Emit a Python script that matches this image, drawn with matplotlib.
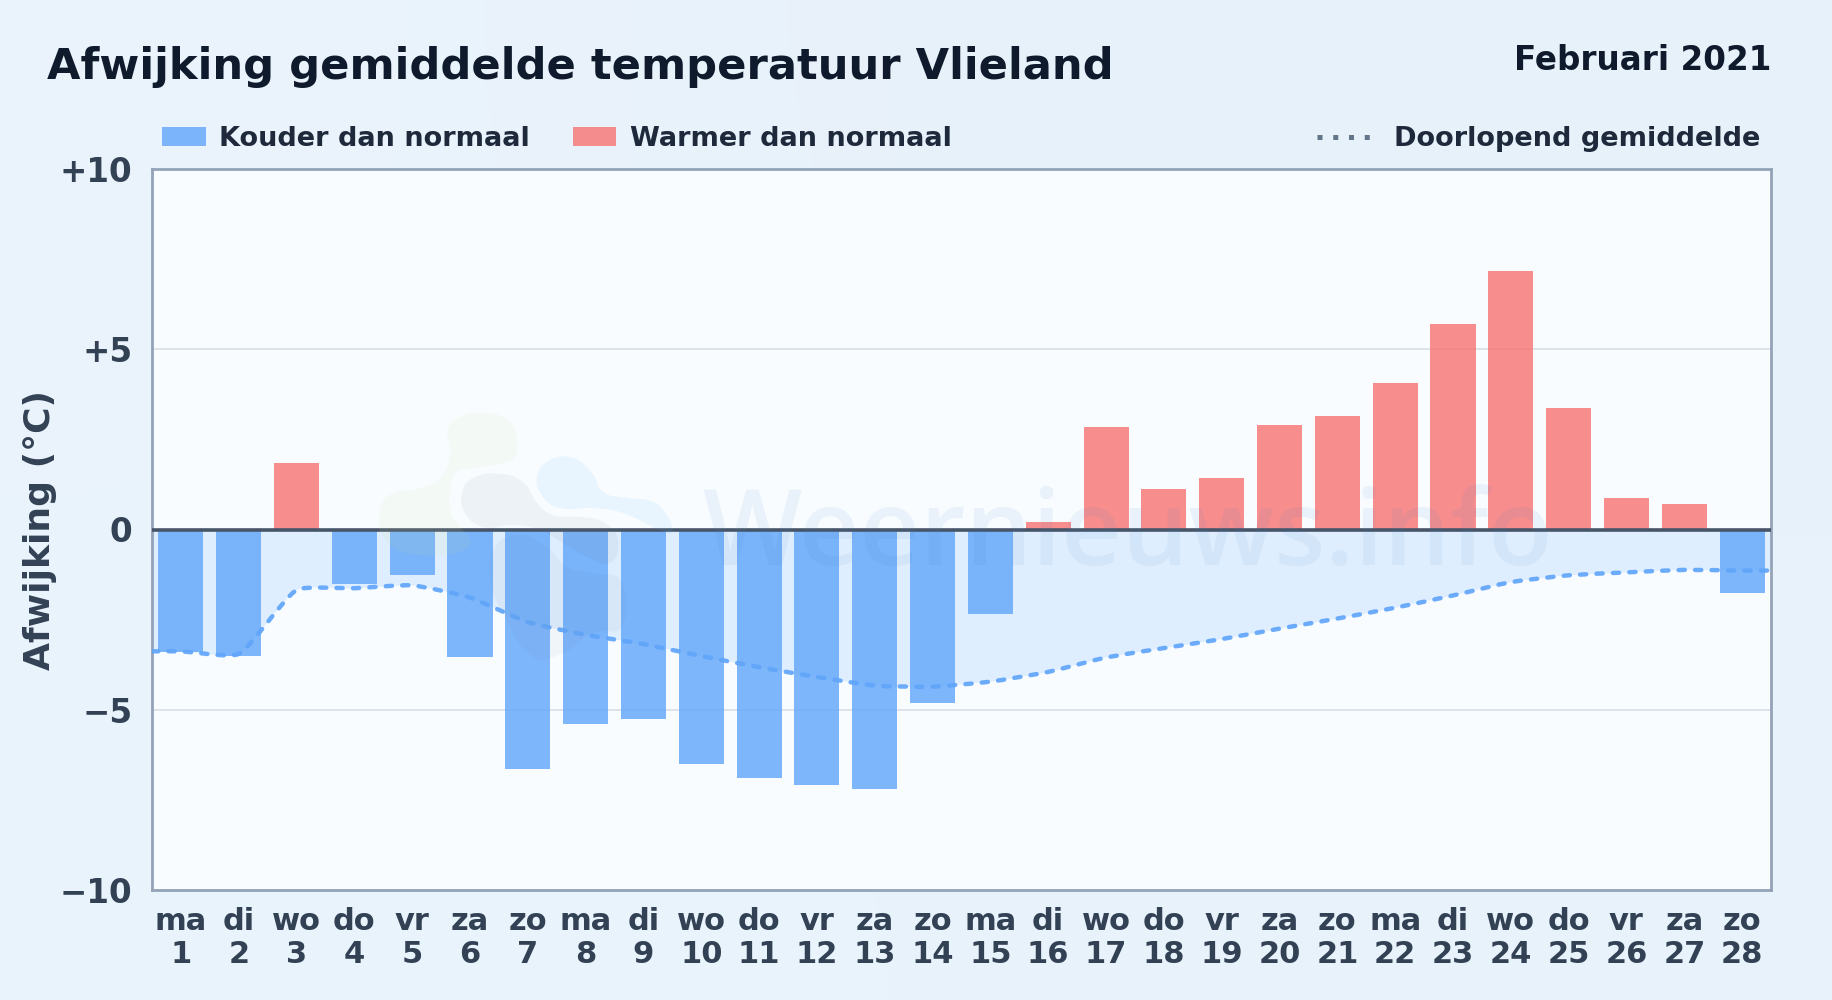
import numpy as np
import matplotlib
matplotlib.use("Agg")
import matplotlib.pyplot as plt
from matplotlib.patches import PathPatch, Rectangle
from matplotlib.path import Path
from matplotlib.lines import Line2D

days = list(range(1, 29))
weekdays = ['ma', 'di', 'wo', 'do', 'vr', 'za', 'zo'] * 4
deviation = [-3.4, -3.5, 1.85, -1.5, -1.25, -3.55, -6.65, -5.4, -5.25, -6.5, -6.9, -7.1, -7.2, -4.8,
             -2.35, 0.2, 2.83, 1.13, 1.43, 2.9, 3.15, 4.05, 5.7, 7.17, 3.38, 0.87, 0.72, -1.75]
running_mean = [-3.38, -3.45, -1.68, -1.63, -1.55, -1.89, -2.57, -2.92, -3.18, -3.51, -3.82, -4.09, -4.33, -4.36,
                -4.22, -3.95, -3.55, -3.29, -3.04, -2.75, -2.47, -2.17, -1.83, -1.46, -1.27, -1.19, -1.12, -1.14]
y_ticks = [-10, -5, 0, 5, 10]
y_tick_labels = ['\u221210', '\u22125', '0', '+5', '+10']

BLUE = '#60a5fa'
RED = '#f87171'
W, H = 1832, 1000


def smooth_path(x, y, tension=0.3, sx=1.0, sy=1.0):
    # curve through the points, control points weighted by the neighbour distances
    pts = np.column_stack([x, y])
    scale = np.array([sx, sy])
    verts = [pts[0]]
    codes = [Path.MOVETO]
    for i in range(len(pts) - 1):
        p0, p1 = pts[max(i - 1, 0)], pts[i]
        p2, p3 = pts[i + 1], pts[min(i + 2, len(pts) - 1)]
        d01 = np.linalg.norm((p1 - p0) * scale)
        d12 = np.linalg.norm((p2 - p1) * scale)
        d23 = np.linalg.norm((p3 - p2) * scale)
        fa = tension * d12 / max(d01 + d12, 1e-9)
        fb = tension * d12 / max(d12 + d23, 1e-9)
        verts += [p1 + fa * (p2 - p0), p2 - fb * (p3 - p1), p2]
        codes += [Path.CURVE4] * 3
    return np.array(verts), codes


def blob(points, color, alpha):
    pts = np.array(points + points[:3], dtype=float)
    v, c = smooth_path(pts[:, 0], pts[:, 1], tension=0.45)
    # the extra points only close the outline smoothly
    n = len(points)
    v = v[3:3 * n + 4]
    c = [Path.MOVETO] + [Path.CURVE4] * (len(v) - 1)
    over.add_patch(PathPatch(Path(v, c), fc=color, ec='none', alpha=alpha))


plt.rcParams['font.family'] = 'DejaVu Sans'
plt.rcParams['font.weight'] = 'bold'

fig = plt.figure(figsize=(W / 100, H / 100), dpi=100)

# page background, faint gradient
bg = fig.add_axes([0, 0, 1, 1], zorder=-1)
bg.imshow([[[0.922, 0.957, 0.988], [0.906, 0.945, 0.980], [0.910, 0.949, 0.984]],
           [[0.914, 0.957, 0.992], [0.914, 0.953, 0.988], [0.906, 0.949, 0.984]]],
          aspect='auto', interpolation='bicubic')
bg.axis('off')

ax = fig.add_axes([152 / W, 1 - 890 / H, (1771 - 152) / W, (890 - 169) / H], zorder=1)
ax.set_facecolor('#f8fcff')

for i, v in enumerate(deviation):
    ax.bar(days[i], v, width=0.78, color=BLUE if v < 0 else RED, alpha=0.8, zorder=3)

line_x = [0.5] + days + [28.5]
line_y = [running_mean[0]] + running_mean + [running_mean[-1]]
verts, codes = smooth_path(line_x, line_y, tension=0.18, sx=57.8, sy=36)
fill_verts = np.vstack([verts, [[28.5, 0], [0.5, 0], verts[0]]])
fill_codes = codes + [Path.LINETO, Path.LINETO, Path.CLOSEPOLY]
ax.add_patch(PathPatch(Path(fill_verts, fill_codes), fc=BLUE, ec='none', alpha=0.16, zorder=2))
ax.add_patch(PathPatch(Path(verts, codes), fc='none', ec=BLUE, lw=3.2, alpha=0.92, linestyle=(0, (1.4, 2.3)),
                       capstyle='round', zorder=4))

ax.axhline(0, color='#475569', lw=2.6, zorder=5)
ax.set_xlim(0.5, 28.5)
ax.set_ylim(-10, 10)
ax.set_yticks(y_ticks, y_tick_labels)
ax.set_xticks(days, [f'{w}\n{d}' for w, d in zip(weekdays, days)])
ax.tick_params(length=0, labelcolor='#334155')
ax.tick_params(axis='y', labelsize=23.5, pad=14)
ax.tick_params(axis='x', labelsize=22, pad=12)
ax.grid(axis='y', color='#dde3ea', lw=1.4, zorder=1)
ax.set_axisbelow(True)
for s in ax.spines.values():
    s.set_color('#94a3b8')
    s.set_linewidth(2.0)
ax.set_ylabel('Afwijking (\u00b0C)', fontsize=26, fontweight='bold', color='#334155')
ax.yaxis.set_label_coords((57 - 152) / (1771 - 152), 0.5)

# overlay in pixel coordinates for the headers, legend and watermark
over = fig.add_axes([0, 0, 1, 1], zorder=2)
over.set_xlim(0, W)
over.set_ylim(H, 0)
over.axis('off')

over.text(47, 67, 'Afwijking gemiddelde temperatuur Vlieland', fontsize=31.15, color='#0f1b2d', va='center')
over.text(1771, 61, 'Februari 2021', fontsize=23.5, color='#0f1b2d', va='center', ha='right')

over.add_patch(Rectangle((162, 127), 44, 19, fc=BLUE, alpha=0.8, ec='none'))
over.add_patch(Rectangle((573, 127), 43, 19, fc=RED, alpha=0.8, ec='none'))
over.add_line(Line2D([1317, 1372], [137, 137], color='#64748b', lw=3.6, dashes=(1, 2.15), dash_capstyle='butt'))
over.text(219, 139, 'Kouder dan normaal', fontsize=19.5, color='#1e293b', va='center')
over.text(630, 139, 'Warmer dan normaal', fontsize=19.5, color='#1e293b', va='center')
over.text(1760, 139, 'Doorlopend gemiddelde', fontsize=19.5, color='#1e293b', va='center', ha='right')

# watermark
over.text(702, 565, 'Weernieuws.info', fontsize=75.6, family='Open Sans', fontweight=600, color='#3b82c4', alpha=0.08,
          va='baseline')
blob([(448, 430), (460, 417), (487, 413), (507, 420), (517, 437), (515, 457), (503, 463), (473, 468), (457, 472),
      (450, 490), (452, 515), (470, 545), (420, 555), (385, 540), (380, 510), (390, 495), (420, 488), (440, 478),
      (450, 455)], '#c8e0a0', 0.10)
blob([(462, 493), (473, 478), (500, 474), (523, 482), (537, 503), (553, 515), (580, 517), (603, 522), (618, 540),
      (610, 563), (587, 557), (563, 543), (540, 530), (513, 525), (483, 527), (465, 513)], '#64748b', 0.07)
blob([(537, 477), (550, 460), (573, 458), (592, 473), (603, 492), (627, 498), (653, 502), (668, 517), (672, 533),
      (660, 530), (623, 513), (593, 508), (560, 508), (543, 497)], '#60b5fa', 0.10)
blob([(493, 550), (517, 535), (547, 547), (567, 567), (593, 573), (620, 580), (622, 627), (593, 633), (563, 653),
      (533, 657), (503, 613), (492, 587)], '#64748b', 0.05)

fig.savefig('out.png', dpi=100)
plt.close()
